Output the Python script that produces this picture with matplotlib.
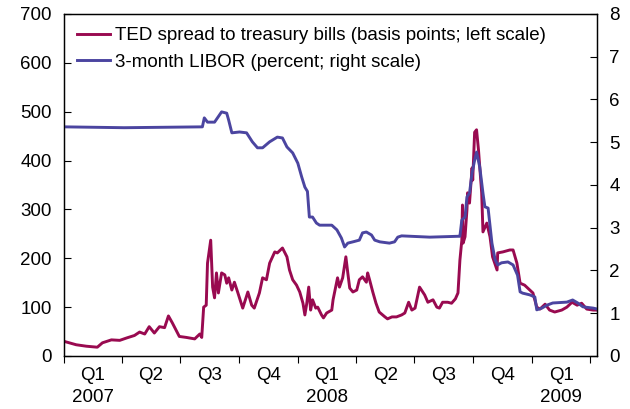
import numpy as np
import matplotlib
matplotlib.use("Agg")
import matplotlib.pyplot as plt

plt.rcParams['font.family'] = ['Liberation Sans', 'DejaVu Sans']

# days since 2007-01-01
ted_day = [0, 8, 19, 35, 52, 60, 74, 87, 98, 110, 118, 126, 133, 141, 149, 157, 163, 169,
           180, 191, 204, 212, 215, 218, 222, 224, 229, 232, 235, 238, 241, 246, 251, 254,
           257, 262, 266, 271, 279, 287, 293, 297, 305, 310, 316, 321, 329, 333, 341, 348,
           352, 357, 363, 368, 373, 376, 379, 382, 385, 388, 393, 396, 402, 405, 410, 418,
           420, 427, 430, 435, 440, 443, 446, 451, 457, 461, 466, 472, 474, 477, 482, 487,
           492, 501, 505, 512, 519, 527, 532, 538, 543, 548, 555, 563, 568, 576, 582, 586,
           591, 599, 605, 611, 615, 618, 621, 622, 623, 626, 629, 630, 633, 637, 638, 641,
           644, 647, 652, 654, 660, 665, 669, 676, 677, 685, 696, 701, 707, 712, 719, 727,
           732, 738, 743, 751, 758, 766, 777, 785, 793, 801, 808, 816, 826, 832]
ted_bp = [30, 27, 23, 20, 18, 27, 33, 32, 37, 42, 49, 45, 60, 47, 60, 58, 82, 68,
          40, 38, 35, 45, 38, 100, 104, 190, 237, 141, 119, 170, 129, 170, 166, 149,
          160, 135, 151, 131, 98, 131, 104, 98, 129, 160, 156, 190, 213, 211, 221, 203,
          176, 156, 145, 131, 108, 84, 108, 141, 94, 115, 98, 100, 84, 78, 88, 94,
          115, 160, 141, 160, 203, 170, 139, 131, 135, 156, 162, 151, 170, 156, 131, 108,
          90, 80, 76, 80, 80, 84, 88, 110, 94, 98, 141, 125, 110, 115, 100, 98,
          110, 110, 108, 117, 129, 196, 237, 309, 231, 244, 299, 334, 313, 385, 360, 458,
          463, 422, 334, 254, 272, 244, 203, 176, 211, 213, 217, 217, 190, 149, 145, 135,
          129, 100, 96, 106, 94, 90, 94, 100, 110, 104, 108, 96, 94, 94]

libor_day = [0, 94, 216, 219, 224, 235, 246, 254, 257, 262, 274, 285, 294, 302, 310, 321,
             333, 341, 348, 357, 365, 371, 376, 380, 383, 388, 394, 399, 418, 426, 433, 438,
             443, 451, 461, 466, 472, 480, 485, 493, 508, 516, 521, 527, 571, 615, 618, 621,
             626, 629, 633, 637, 641, 644, 649, 654, 657, 662, 668, 673, 677, 683, 693, 701,
             708, 712, 716, 727, 735, 738, 746, 754, 763, 785, 794, 802, 810, 826, 832]
libor_pct = [5.36, 5.34, 5.36, 5.57, 5.47, 5.47, 5.71, 5.68, 5.52, 5.22, 5.24, 5.22, 5.01,
             4.87, 4.87, 5.01, 5.12, 5.10, 4.89, 4.75, 4.51, 4.19, 3.95, 3.85, 3.25, 3.25,
             3.11, 3.06, 3.06, 2.95, 2.76, 2.55, 2.64, 2.67, 2.71, 2.88, 2.90, 2.83, 2.71,
             2.67, 2.64, 2.67, 2.78, 2.81, 2.78, 2.80, 2.80, 3.18, 3.25, 3.72, 3.81, 4.28,
             4.58, 4.77, 4.42, 3.81, 3.49, 3.46, 2.64, 2.25, 2.13, 2.18, 2.20, 2.13, 1.89,
             1.50, 1.47, 1.43, 1.38, 1.08, 1.12, 1.19, 1.24, 1.26, 1.31, 1.24, 1.15, 1.12, 1.10]

# quarter starts (days since 2007-01-01) and labels
quarter_start = [0, 90, 181, 273, 365, 456, 547, 639, 731, 821]
quarter_labels = ['Q1\n2007', 'Q2', 'Q3', 'Q4', 'Q1\n2008', 'Q2', 'Q3', 'Q4', 'Q1\n2009']

ted_color = '#990A50'
libor_color = '#4B45A0'
fs = 13.5

fig = plt.figure(figsize=(6.3, 4.09), dpi=100)
ax = fig.add_axes([0.1016, 0.1296, 0.846, 0.8362])
ax2 = ax.twinx()

l1, = ax.plot(ted_day, ted_bp, color=ted_color, lw=2.1,
              label='TED spread to treasury bills (basis points; left scale)')
l2, = ax2.plot(libor_day, libor_pct, color=libor_color, lw=2.1,
               label='3-month LIBOR (percent; right scale)')

ax.set_xlim(0, 832)
ax.set_ylim(0, 700)
ax2.set_ylim(0, 8)
ax.set_yticks(np.arange(0, 701, 100))
ax2.set_yticks(np.arange(0, 9, 1))

ax.set_xticks(quarter_start)
ax.set_xticklabels([])
mids = [(quarter_start[i] + quarter_start[i + 1]) / 2 for i in range(len(quarter_labels))]
ax.set_xticks(mids, minor=True)
ax.set_xticklabels(quarter_labels, minor=True)
for lbl in ax.get_xticklabels(minor=True):
    lbl.set_linespacing(1.4)

ax.tick_params(axis='x', which='major', direction='out', length=5, width=0.8)
ax.tick_params(axis='x', which='minor', length=0, pad=8, labelsize=fs)
ax.tick_params(axis='y', direction='in', length=5, width=0.8, labelsize=fs, pad=9)
ax2.tick_params(axis='y', direction='in', length=5, width=0.8, labelsize=fs, pad=9)

for a in (ax, ax2):
    for s in a.spines.values():
        s.set_linewidth(0.9)

ax.legend(handles=[l1, l2], loc='upper left', frameon=False, fontsize=fs,
          handlelength=1.75, handletextpad=0.25, labelspacing=0.5,
          borderaxespad=0.3, bbox_to_anchor=(0.0, 1.0))

fig.savefig('out.png', dpi=100)
